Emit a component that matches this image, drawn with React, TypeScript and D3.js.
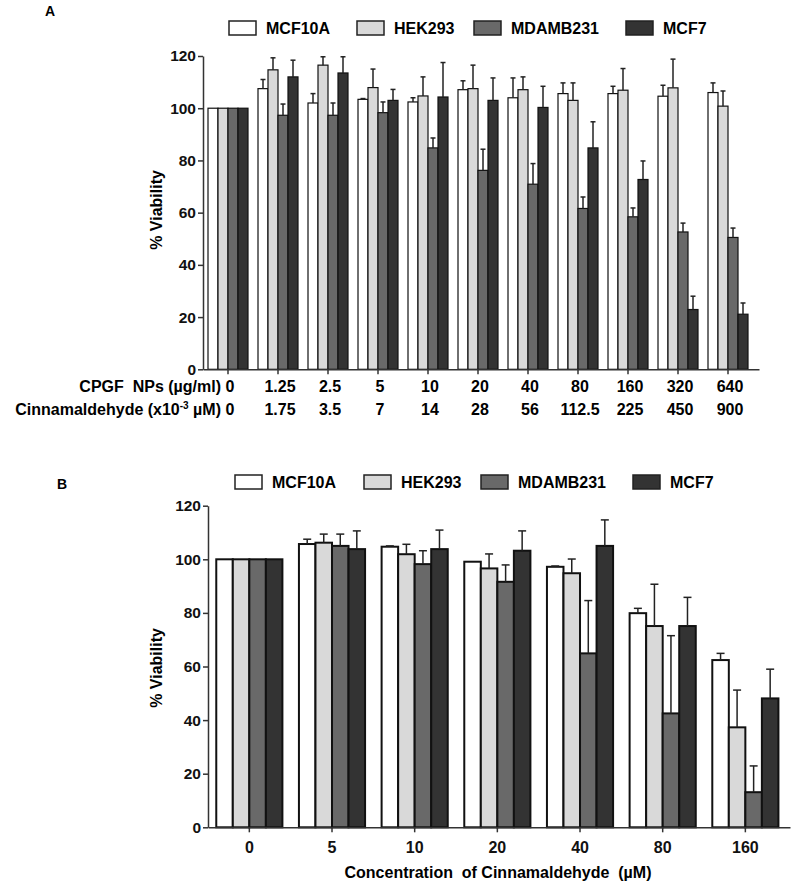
import React, { useEffect, useRef } from "react"
import * as d3 from "d3"

// series + colours
const seriesNames = ["MCF10A", "HEK293", "MDAMB231", "MCF7"]
const seriesFill = ["#ffffff", "#d9d9d9", "#696969", "#333333"]

// Panel A : CPGF nanoparticles
const npConcA = ["0", "1.25", "2.5", "5", "10", "20", "40", "80", "160", "320", "640"]
const cinnConcA = ["0", "1.75", "3.5", "7", "14", "28", "56", "112.5", "225", "450", "900"]
const mcf10aA = [100, 107.5, 102, 103.4, 102.4, 107.1, 104, 105.6, 105.6, 104.6, 106]
const mcf10aErrA = [0, 3.5, 3.6, 0.3, 1.6, 3.4, 7.6, 4.1, 2.8, 4.2, 3.7]
const hek293A = [100, 114.7, 116.5, 107.9, 104.7, 107.5, 107.1, 103, 106.9, 107.8, 100.8]
const hek293ErrA = [0, 4.6, 3.2, 7.1, 7.3, 9, 4.9, 6.7, 8.3, 11, 5.8]
const mdaA = [100, 97.3, 97.3, 98.3, 84.8, 76.2, 70.9, 61.6, 58.4, 52.6, 50.5]
const mdaErrA = [0, 4.3, 4.7, 4.1, 3.8, 8.1, 7.9, 4.4, 3.4, 3.4, 3.6]
const mcf7A = [100, 112, 113.5, 103, 104.3, 103, 100.3, 84.8, 72.7, 22.9, 21.1]
const mcf7ErrA = [0, 6.4, 6.2, 4.2, 13.2, 8.6, 8.1, 10, 7.1, 5.1, 4.3]

// Panel B : free cinnamaldehyde
const concB = ["0", "5", "10", "20", "40", "80", "160"]
const mcf10aB = [100, 105.7, 104.7, 99.1, 97.2, 79.9, 62.4]
const mcf10aErrB = [0, 1.8, 0.3, 0, 0.3, 1.8, 2.5]
const hek293B = [100, 106.2, 101.9, 96.6, 94.8, 75.1, 37.3]
const hek293ErrB = [0, 3.2, 3.7, 5.4, 5.3, 15.6, 13.9]
const mdaB = [100, 105, 98.2, 91.6, 64.9, 42.5, 13.1]
const mdaErrB = [0, 4.4, 5, 6.3, 19.7, 29, 9.8]
const mcf7B = [100, 103.8, 103.8, 103.2, 105, 75.1, 48.1]
const mcf7ErrB = [0, 6.8, 7.1, 7.4, 9.7, 10.7, 10.9]

const yTicks = [0, 20, 40, 60, 80, 100, 120]

const FONT = "'Liberation Sans', Arial, sans-serif"
const NARROW = "'Liberation Sans Narrow', 'Arial Narrow', sans-serif"

const buildRows = (cats, vals, errs) =>
	cats.map((c, i) => ({
		cat: c,
		bars: seriesNames.map((s, k) => ({ key: s, value: vals[k][i], err: errs[k][i], fill: seriesFill[k] })),
	}))

const drawPanel = (svg, cfg) => {
	const { rows, cats, left, right, top, bottom, barStroke, label, labelPos, legendY, legendX, ylabelY } = cfg

	const x = d3.scaleBand().domain(cats).range([left, right]).paddingInner(0).paddingOuter(cfg.outer).align(0)
	const y = d3.scaleLinear().domain([0, 120]).range([bottom, top])
	const xSub = d3.scaleBand().domain(seriesNames).range([0, x.bandwidth()]).paddingOuter(0.5)

	const g = svg.append("g")

	// panel letter
	g.append("text")
		.attr("x", labelPos[0])
		.attr("y", labelPos[1])
		.style("font-family", FONT)
		.style("font-weight", "bold")
		.style("font-size", "14px")
		.text(label)

	// legend
	seriesNames.forEach((s, k) => {
		g.append("rect")
			.attr("x", legendX[k])
			.attr("y", legendY)
			.attr("width", 27)
			.attr("height", 14)
			.attr("fill", seriesFill[k])
			.attr("stroke", "#222")
			.attr("stroke-width", 1.5)
		g.append("text")
			.attr("x", legendX[k] + 37)
			.attr("y", legendY + 12.5)
			.style("font-family", FONT)
			.style("font-weight", "bold")
			.style("font-size", "16px")
			.text(s)
	})

	// bars
	const groups = g
		.selectAll(".grp")
		.data(rows)
		.join("g")
		.attr("transform", d => `translate(${x(d.cat)},0)`)

	groups
		.selectAll("rect")
		.data(d => d.bars)
		.join("rect")
		.attr("x", d => xSub(d.key))
		.attr("y", d => y(d.value))
		.attr("width", xSub.bandwidth())
		.attr("height", d => y(0) - y(d.value))
		.attr("fill", d => d.fill)
		.attr("stroke", "#111")
		.attr("stroke-width", barStroke)

	// error bars (upper only)
	const eb = groups
		.selectAll(".err")
		.data(d => d.bars.filter(b => b.err > 0.2))
		.join("g")
		.attr("class", "err")
	eb.append("line")
		.attr("x1", d => xSub(d.key) + xSub.bandwidth() / 2)
		.attr("x2", d => xSub(d.key) + xSub.bandwidth() / 2)
		.attr("y1", d => y(d.value))
		.attr("y2", d => y(d.value + d.err))
		.attr("stroke", "#222")
		.attr("stroke-width", 1.5)
	eb.append("line")
		.attr("x1", d => xSub(d.key) + xSub.bandwidth() / 2 - cfg.cap)
		.attr("x2", d => xSub(d.key) + xSub.bandwidth() / 2 + cfg.cap)
		.attr("y1", d => y(d.value + d.err))
		.attr("y2", d => y(d.value + d.err))
		.attr("stroke", "#222")
		.attr("stroke-width", 1.5)

	// y axis
	const yAxis = g
		.append("g")
		.attr("transform", `translate(${left},0)`)
		.call(d3.axisLeft(y).tickValues(yTicks).tickSize(5).tickSizeOuter(0).tickPadding(2))
	yAxis.select(".domain").attr("stroke", "#333").attr("stroke-width", 1.5)
	yAxis.selectAll(".tick line").attr("stroke", "#333").attr("stroke-width", 1.5)
	yAxis.selectAll("text")
		.style("font-family", FONT)
		.style("font-weight", "bold")
		.style("font-size", "15.5px")
		.attr("fill", "#111")

	// x axis
	const xAxis = g
		.append("g")
		.attr("transform", `translate(0,${bottom})`)
		.call(d3.axisBottom(x).tickSize(5).tickSizeOuter(0).tickPadding(9))
	xAxis.select(".domain").attr("stroke", "#333").attr("stroke-width", 1.5)
	xAxis.selectAll(".tick line").attr("stroke", "#333").attr("stroke-width", 1.5)
	xAxis.selectAll("text")
		.style("font-family", FONT)
		.style("font-weight", "bold")
		.style("font-size", "16px")
		.attr("fill", "#111")
	if (!cfg.showXLabels) xAxis.selectAll("text").remove()

	// y title
	g.append("text")
		.attr("transform", `translate(162,${ylabelY}) rotate(-90)`)
		.attr("text-anchor", "middle")
		.style("font-family", FONT)
		.style("font-weight", "bold")
		.style("font-size", "16px")
		.text("% Viability")

	return x
}

const App = () => {
	const ref = useRef(null)

	useEffect(() => {
		const svg = d3.select(ref.current)
		svg.selectAll("*").remove()

		// Panel A
		const rowsA = buildRows(npConcA, [mcf10aA, hek293A, mdaA, mcf7A], [mcf10aErrA, hek293ErrA, mdaErrA, mcf7ErrA])
		const xA = drawPanel(svg, {
			rows: rowsA,
			cats: npConcA,
			left: 203,
			right: 759,
			outer: 0.06,
			top: 56,
			bottom: 369.3,
			barStroke: 1.2,
			cap: 2.5,
			label: "A",
			labelPos: [45, 16],
			legendY: 21,
			legendX: [229, 357, 474, 626],
			ylabelY: 210,
			showXLabels: false,
		})

		// concentration rows under panel A
		const rowLabels = svg.append("g").style("font-family", NARROW).style("font-weight", "bold").style("font-size", "16px")
		rowLabels.append("text").attr("x", 221).attr("y", 392).attr("text-anchor", "end").attr("xml:space", "preserve").text("CPGF  NPs (µg/ml)")
		const cinn = rowLabels.append("text").attr("x", 221).attr("y", 415).attr("text-anchor", "end")
		cinn.append("tspan").text("Cinnamaldehyde (x10")
		cinn.append("tspan").attr("dy", -6).style("font-size", "10px").text("-3")
		cinn.append("tspan").attr("dy", 6).text(" µM)")

		rowLabels
			.selectAll(".np")
			.data(npConcA)
			.join("text")
			.attr("x", d => xA(d) + xA.bandwidth() / 2 + 2)
			.attr("y", 392)
			.attr("text-anchor", "middle")
			.text(d => d)
		rowLabels
			.selectAll(".cn")
			.data(cinnConcA)
			.join("text")
			.attr("x", (d, i) => xA(npConcA[i]) + xA.bandwidth() / 2 + 2)
			.attr("y", 415)
			.attr("text-anchor", "middle")
			.text(d => d)

		// Panel B
		const rowsB = buildRows(concB, [mcf10aB, hek293B, mdaB, mcf7B], [mcf10aErrB, hek293ErrB, mdaErrB, mcf7ErrB])
		drawPanel(svg, {
			rows: rowsB,
			cats: concB,
			left: 208,
			right: 790,
			outer: 0.02,
			top: 505.7,
			bottom: 827.3,
			barStroke: 2,
			cap: 4,
			label: "B",
			labelPos: [57, 489],
			legendY: 475,
			legendX: [235, 364, 481, 633],
			ylabelY: 668,
			showXLabels: true,
		})

		svg.append("text")
			.attr("x", 498)
			.attr("y", 878)
			.attr("text-anchor", "middle")
			.attr("xml:space", "preserve")
			.style("font-family", FONT)
			.style("font-weight", "bold")
			.style("font-size", "16px")
			.text("Concentration  of Cinnamaldehyde  (µM)")
	}, [])

	return (
		<svg
			ref={ref}
			width={797}
			height={886}
			style={{ position: "absolute", left: 0, top: 0, background: "#fff" }}
		></svg>
	)
}

export default App
